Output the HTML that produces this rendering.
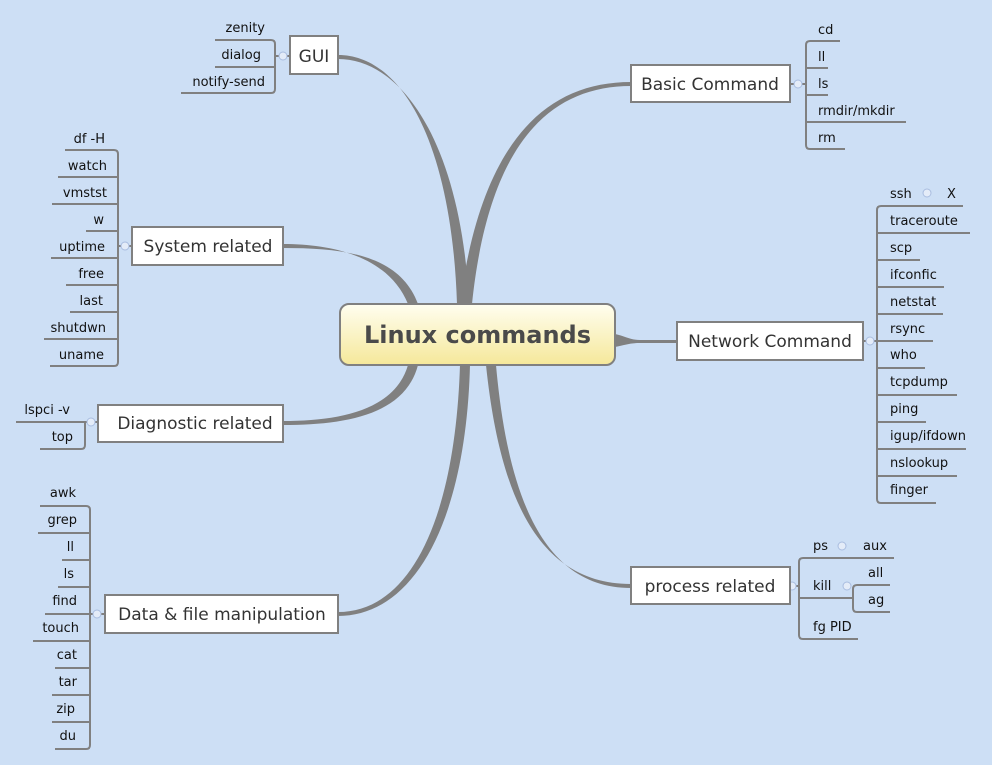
<!DOCTYPE html>
<html><head><meta charset="utf-8"><style>
html,body{margin:0;padding:0;background:#cddff5;}
svg{display:block;font-family:"DejaVu Sans","Liberation Sans",sans-serif;}
</style></head><body>
<svg width="992" height="765" viewBox="0 0 992 765" xmlns="http://www.w3.org/2000/svg">
<rect width="992" height="765" fill="#cddff5"/>
<defs><linearGradient id="g" x1="0" y1="0" x2="0" y2="1"><stop offset="0" stop-color="#fffef0"/><stop offset="1" stop-color="#f5e89a"/></linearGradient></defs>
<g fill="#808080">
<path d="M338,55 C405,55 452,150 457,304 L469,304 C462,150 405,59 338,59 Z"/>
<path d="M631,82 C540,82 480,150 460,304 L472,304 C488,150 545,86 631,86 Z"/>
<path d="M677,340 L640,340 C630,340 625,336 615,334 L615,347 C625,345 630,343 640,343 L677,343 Z"/>
<path d="M631,584 C540,584 500,500 486,365 L496,365 C508,500 545,588 631,588 Z"/>
<path d="M338,612 C410,612 455,520 460,365 L470,365 C466,520 415,616 338,616 Z"/>
<path d="M283,244 C340,244 390,260 408,304 L418,304 C400,255 345,248 283,248 Z"/>
<path d="M283,421 C340,421 395,410 408,365 L418,365 C405,415 345,425 283,425 Z"/>
</g>
<g stroke="#808080" stroke-width="2" fill="none">
<!-- GUI -->
<path d="M215,40 H271 Q275,40 275,44 V89 Q275,93 271,93 H181 M215,67 H275 M275,56 H290"/>
<!-- Basic -->
<path d="M840,41 H810 Q806,41 806,45 V145 Q806,149 810,149 H845 M806,68 H828 M806,95 H828 M806,122 H906 M790,84 H806"/>
<!-- System -->
<path d="M65,150 H114 Q118,150 118,154 V362 Q118,366 114,366 H50 M58,177 H118 M52,204 H118 M86,231 H118 M51,258 H118 M66,285 H118 M70,312 H118 M44,339 H118 M118,246 H132"/>
<!-- Diagnostic -->
<path d="M16,422 H98 M85,422 V445 Q85,449 81,449 H40"/>
<!-- Data -->
<path d="M40,506 H86 Q90,506 90,510 V745 Q90,749 86,749 H55 M38,533 H90 M62,560 H90 M58,587 H90 M45,614 H105 M33,641 H90 M55,668 H90 M52,695 H90 M52,722 H90"/>
<!-- Network -->
<path d="M963,206 H881 Q877,206 877,210 V499 Q877,503 881,503 H936 M877,233 H970 M877,260 H920 M877,287 H944 M877,314 H943 M877,341 H933 M877,368 H925 M877,395 H957 M877,422 H926 M877,449 H966 M877,476 H957 M863,341 H877"/>
<!-- Process -->
<path d="M894,558 H803 Q799,558 799,562 V635 Q799,639 803,639 H858 M799,598 H853 M890,585 H857 Q853,585 853,589 V608 Q853,612 857,612 H890 M790,586 H799"/>
</g>
<g fill="#e4ecf8" stroke="#a9bde0" stroke-width="1">
<circle cx="283" cy="56" r="4"/><circle cx="798" cy="84" r="4"/><circle cx="125" cy="246" r="4"/>
<circle cx="91" cy="422" r="4"/><circle cx="97" cy="614" r="4"/><circle cx="870" cy="341" r="4"/>
<circle cx="792" cy="586" r="4"/><circle cx="927" cy="193" r="4"/><circle cx="842" cy="546" r="4"/><circle cx="847" cy="586" r="4"/>
</g>
<g fill="#fff" stroke="#808080" stroke-width="2">
<rect x="290" y="36" width="48" height="38"/>
<rect x="631" y="65" width="159" height="37"/>
<rect x="132" y="227" width="151" height="38"/>
<rect x="677" y="322" width="186" height="38"/>
<rect x="98" y="405" width="185" height="37"/>
<rect x="105" y="595" width="233" height="38"/>
<rect x="631" y="567" width="159" height="37"/>
</g>
<rect x="340" y="304" width="275" height="61" rx="9" fill="url(#g)" stroke="#808080" stroke-width="2"/>
<text x="477.5" y="343" text-anchor="middle" font-size="24" font-weight="bold" fill="#4a4a4a">Linux commands</text>
<g font-size="17" fill="#333">
<text x="314" y="62" text-anchor="middle">GUI</text>
<text x="710" y="90" text-anchor="middle">Basic Command</text>
<text x="208" y="252" text-anchor="middle">System related</text>
<text x="770" y="347" text-anchor="middle">Network Command</text>
<text x="195" y="429" text-anchor="middle">Diagnostic related</text>
<text x="222" y="620" text-anchor="middle">Data &amp; file manipulation</text>
<text x="710" y="592" text-anchor="middle">process related</text>
</g>
<g font-size="13" fill="#111" text-anchor="end">
<text x="265" y="32">zenity</text><text x="261" y="59">dialog</text><text x="265" y="86">notify-send</text>
<text x="105" y="143">df -H</text><text x="107" y="170">watch</text><text x="107" y="197">vmstst</text><text x="104" y="224">w</text><text x="105" y="251">uptime</text><text x="104" y="278">free</text><text x="103" y="305">last</text><text x="106" y="332">shutdwn</text><text x="104" y="359">uname</text>
<text x="70" y="414">lspci -v</text><text x="73" y="441">top</text>
<text x="76" y="497">awk</text><text x="77" y="524">grep</text><text x="74" y="551">ll</text><text x="74" y="578">ls</text><text x="77" y="605">find</text><text x="79" y="632">touch</text><text x="77" y="659">cat</text><text x="77" y="686">tar</text><text x="75" y="713">zip</text><text x="76" y="740">du</text>
</g>
<g font-size="13" fill="#111">
<text x="818" y="34">cd</text><text x="818" y="61">ll</text><text x="818" y="88">ls</text><text x="818" y="115">rmdir/mkdir</text><text x="818" y="142">rm</text>
<text x="890" y="198">ssh</text><text x="947" y="198">X</text>
<text x="890" y="225">traceroute</text><text x="890" y="252">scp</text><text x="890" y="279">ifconfic</text><text x="890" y="306">netstat</text><text x="890" y="333">rsync</text><text x="890" y="359">who</text><text x="890" y="386">tcpdump</text><text x="890" y="413">ping</text><text x="890" y="440">igup/ifdown</text><text x="890" y="467">nslookup</text><text x="890" y="494">finger</text>
<text x="813" y="550">ps</text><text x="863" y="550">aux</text>
<text x="813" y="590">kill</text><text x="868" y="577">all</text><text x="868" y="604">ag</text>
<text x="813" y="631">fg PID</text>
</g>
</svg>
</body></html>
